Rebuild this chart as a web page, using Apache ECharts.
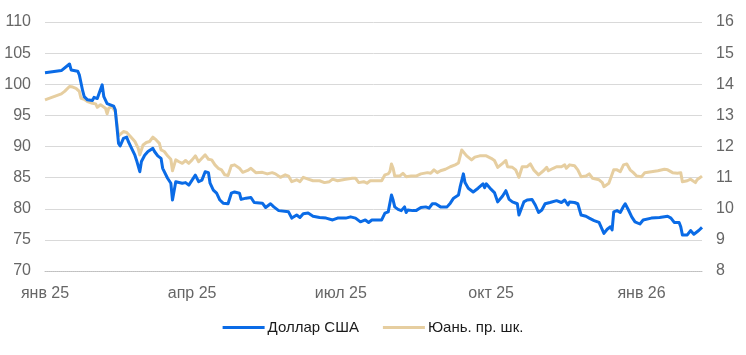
<!DOCTYPE html>
<html>
<head>
<meta charset="utf-8">
<script src="https://cdn.jsdelivr.net/npm/echarts@6/dist/echarts.min.js"></script>
<style>
html,body{margin:0;padding:0;background:#fff;}
#chart{width:746px;height:355px;}
</style>
</head>
<body>
<div id="chart"></div>
<script>
const startDate = '2025-01-01';
const endDate = '2026-02-07';
const monthNames = ['янв','фев','мар','апр','май','июн','июл','авг','сен','окт','ноя','дек'];
const labelMonths = [0, 3, 6, 9];

const usdName = 'Доллар США';
const cnyName = 'Юань. пр. шк.';

const usdDates = ['2025-01-01','2025-01-11','2025-01-12','2025-01-16','2025-01-17','2025-01-21','2025-01-22','2025-01-24','2025-01-25','2025-01-27','2025-01-30','2025-01-31','2025-02-02','2025-02-04','2025-02-05','2025-02-06','2025-02-08','2025-02-09','2025-02-12','2025-02-13','2025-02-14','2025-02-15','2025-02-16','2025-02-18','2025-02-20','2025-02-21','2025-02-23','2025-02-25','2025-02-26','2025-02-28','2025-03-01','2025-03-03','2025-03-05','2025-03-08','2025-03-09','2025-03-11','2025-03-13','2025-03-14','2025-03-15','2025-03-17','2025-03-19','2025-03-20','2025-03-22','2025-03-23','2025-03-26','2025-03-28','2025-03-30','2025-04-01','2025-04-03','2025-04-05','2025-04-07','2025-04-09','2025-04-11','2025-04-12','2025-04-14','2025-04-16','2025-04-18','2025-04-20','2025-04-23','2025-04-25','2025-04-27','2025-04-30','2025-05-01','2025-05-04','2025-05-07','2025-05-09','2025-05-14','2025-05-16','2025-05-19','2025-05-21','2025-05-24','2025-05-30','2025-06-01','2025-06-04','2025-06-06','2025-06-08','2025-06-11','2025-06-14','2025-06-18','2025-06-22','2025-06-26','2025-06-29','2025-07-04','2025-07-07','2025-07-10','2025-07-13','2025-07-16','2025-07-18','2025-07-20','2025-07-23','2025-07-26','2025-07-28','2025-07-30','2025-07-31','2025-08-01','2025-08-02','2025-08-03','2025-08-05','2025-08-07','2025-08-09','2025-08-10','2025-08-11','2025-08-14','2025-08-16','2025-08-19','2025-08-22','2025-08-24','2025-08-26','2025-08-28','2025-08-31','2025-09-04','2025-09-06','2025-09-08','2025-09-11','2025-09-12','2025-09-14','2025-09-15','2025-09-17','2025-09-20','2025-09-23','2025-09-26','2025-09-27','2025-09-28','2025-10-01','2025-10-03','2025-10-05','2025-10-08','2025-10-10','2025-10-12','2025-10-14','2025-10-17','2025-10-18','2025-10-19','2025-10-21','2025-10-23','2025-10-26','2025-10-28','2025-10-30','2025-11-01','2025-11-03','2025-11-06','2025-11-10','2025-11-13','2025-11-15','2025-11-17','2025-11-18','2025-11-21','2025-11-23','2025-11-25','2025-11-28','2025-11-30','2025-12-03','2025-12-06','2025-12-07','2025-12-09','2025-12-11','2025-12-13','2025-12-14','2025-12-15','2025-12-17','2025-12-19','2025-12-21','2025-12-22','2025-12-24','2025-12-26','2025-12-28','2025-12-31','2026-01-02','2026-01-07','2026-01-12','2026-01-17','2026-01-19','2026-01-21','2026-01-24','2026-01-25','2026-01-26','2026-01-29','2026-01-31','2026-02-02','2026-02-03','2026-02-05','2026-02-07'];
const usdValues = [101.86,102.2,101.9,103.25,102.3,102.1,101.5,99.0,98.0,97.5,97.4,97.9,97.7,99.2,99.9,98.0,96.9,97.2,96.5,95.9,93.2,90.5,90.1,91.3,91.5,90.8,89.7,88.6,87.8,85.95,87.6,88.6,89.2,89.7,89.2,88.5,88.1,86.5,86.5,84.9,84.1,81.4,84.35,84.6,84.1,84.2,83.8,84.6,85.4,84.35,84.6,85.95,85.8,84.1,83.0,82.5,81.4,80.9,80.8,82.5,82.7,82.5,81.5,81.7,81.8,81.0,80.9,80.2,80.8,80.3,79.7,79.5,78.5,79.0,78.6,79.2,79.3,78.8,78.6,78.5,78.2,78.5,78.5,78.7,78.5,77.9,78.2,77.8,78.2,78.2,78.2,79.3,79.5,79.8,82.2,81.4,80.3,79.9,79.7,80.3,79.4,79.8,79.7,79.7,80.2,80.3,80.1,80.8,80.8,80.3,80.3,80.9,81.7,82.2,83.5,85.6,84.2,83.3,82.7,83.3,84.0,83.4,84.0,83.1,82.6,81.1,82.05,82.9,81.5,81.1,80.8,79.0,78.8,81.1,81.4,81.5,80.6,79.4,79.8,80.8,81.0,81.3,81.0,81.4,80.6,81.1,81.0,80.8,79.0,78.8,78.5,78.1,77.8,78.1,76.05,76.7,77.1,76.6,79.5,79.7,79.4,80.4,80.8,79.8,78.7,77.9,77.55,78.2,78.5,78.6,78.8,78.5,77.8,77.8,77.1,75.8,75.8,76.5,75.9,75.6,76.5,77.0];

const cnyDates = ['2025-01-01','2025-01-11','2025-01-13','2025-01-16','2025-01-18','2025-01-20','2025-01-22','2025-01-23','2025-01-25','2025-01-27','2025-01-30','2025-02-01','2025-02-02','2025-02-04','2025-02-05','2025-02-07','2025-02-08','2025-02-09','2025-02-11','2025-02-13','2025-02-14','2025-02-15','2025-02-16','2025-02-18','2025-02-20','2025-02-22','2025-02-25','2025-02-27','2025-02-28','2025-03-02','2025-03-04','2025-03-06','2025-03-08','2025-03-10','2025-03-12','2025-03-13','2025-03-15','2025-03-17','2025-03-19','2025-03-20','2025-03-22','2025-03-24','2025-03-26','2025-03-28','2025-03-30','2025-04-01','2025-04-03','2025-04-05','2025-04-07','2025-04-09','2025-04-11','2025-04-13','2025-04-15','2025-04-17','2025-04-19','2025-04-21','2025-04-23','2025-04-25','2025-04-27','2025-04-30','2025-05-02','2025-05-05','2025-05-07','2025-05-10','2025-05-14','2025-05-17','2025-05-20','2025-05-22','2025-05-23','2025-05-25','2025-05-28','2025-05-30','2025-06-01','2025-06-04','2025-06-06','2025-06-08','2025-06-11','2025-06-14','2025-06-18','2025-06-21','2025-06-24','2025-06-26','2025-06-29','2025-07-04','2025-07-08','2025-07-10','2025-07-12','2025-07-15','2025-07-17','2025-07-19','2025-07-23','2025-07-26','2025-07-28','2025-07-30','2025-07-31','2025-08-01','2025-08-02','2025-08-03','2025-08-04','2025-08-06','2025-08-08','2025-08-10','2025-08-13','2025-08-16','2025-08-19','2025-08-23','2025-08-25','2025-08-27','2025-08-29','2025-08-31','2025-09-03','2025-09-06','2025-09-09','2025-09-11','2025-09-13','2025-09-14','2025-09-16','2025-09-19','2025-09-21','2025-09-24','2025-09-25','2025-09-28','2025-10-01','2025-10-03','2025-10-05','2025-10-08','2025-10-10','2025-10-11','2025-10-14','2025-10-16','2025-10-18','2025-10-20','2025-10-23','2025-10-25','2025-10-27','2025-10-30','2025-11-02','2025-11-04','2025-11-05','2025-11-08','2025-11-10','2025-11-13','2025-11-15','2025-11-16','2025-11-18','2025-11-21','2025-11-23','2025-11-25','2025-11-28','2025-11-30','2025-12-02','2025-12-06','2025-12-08','2025-12-09','2025-12-12','2025-12-13','2025-12-15','2025-12-17','2025-12-19','2025-12-21','2025-12-23','2025-12-25','2025-12-27','2025-12-29','2026-01-01','2026-01-03','2026-01-07','2026-01-11','2026-01-15','2026-01-17','2026-01-20','2026-01-23','2026-01-25','2026-01-26','2026-01-29','2026-01-31','2026-02-01','2026-02-03','2026-02-04','2026-02-07'];
const cnyValues = [13.5,13.69,13.77,13.93,13.91,13.87,13.77,13.55,13.52,13.44,13.39,13.37,13.26,13.34,13.39,13.23,13.05,13.23,13.28,13.12,12.75,12.34,12.37,12.48,12.45,12.34,12.16,11.95,11.73,12.05,12.13,12.16,12.30,12.21,12.1,11.89,11.84,11.7,11.59,11.22,11.57,11.51,11.46,11.55,11.46,11.57,11.7,11.51,11.62,11.73,11.59,11.57,11.41,11.3,11.25,11.09,11.07,11.38,11.41,11.3,11.17,11.23,11.3,11.16,11.17,11.12,11.16,11.12,11.16,11.01,11.09,11.05,10.87,10.93,10.87,11.01,10.95,10.9,10.9,10.84,10.87,10.95,10.9,10.95,10.98,10.98,10.84,10.87,10.82,10.9,10.9,10.9,11.09,11.12,11.19,11.44,11.3,11.05,11.05,11.05,11.14,11.03,11.05,11.05,11.12,11.16,11.14,11.25,11.16,11.22,11.27,11.35,11.41,11.47,11.89,11.91,11.7,11.57,11.66,11.7,11.73,11.7,11.62,11.55,11.33,11.46,11.55,11.35,11.33,11.25,11.01,11.35,11.35,11.44,11.25,11.09,11.22,11.33,11.22,11.3,11.35,11.35,11.41,11.3,11.41,11.38,11.25,11.03,11.05,11.12,10.98,10.93,10.84,10.71,10.82,10.87,11.25,11.25,11.19,11.41,11.44,11.25,11.16,11.05,11.03,11.16,11.19,11.22,11.27,11.25,11.16,11.14,11.16,10.87,10.9,10.95,10.98,10.84,10.93,11.05];

const leftTicks = {min: 70, max: 110, interval: 5};
const rightTicks = {min: 8, max: 16, interval: 1};

function iso(d) {
  const m = d.getUTCMonth() + 1, day = d.getUTCDate();
  return d.getUTCFullYear() + '-' + (m < 10 ? '0' : '') + m + '-' + (day < 10 ? '0' : '') + day;
}
const categories = [];
for (let t = Date.parse(startDate + 'T00:00:00Z'); t <= Date.parse(endDate + 'T00:00:00Z'); t += 86400000) {
  categories.push(iso(new Date(t)));
}

const font = "'Liberation Sans', Arial, sans-serif";
const labelColor = '#666666';
const chart = echarts.init(document.getElementById('chart'), null, {renderer: 'canvas'});
chart.setOption({
  animation: false,
  backgroundColor: '#ffffff',
  grid: {left: 45, right: 44, top: 22, bottom: 84},
  legend: {
    data: [usdName, cnyName],
    bottom: 15,
    left: 'center',
    icon: 'rect',
    itemWidth: 42,
    itemHeight: 3,
    itemGap: 24,
    textStyle: {fontFamily: font, fontSize: 15, color: '#1a1a1a', padding: [0, 0, 0, -2]}
  },
  xAxis: {
    type: 'category',
    data: categories,
    boundaryGap: false,
    axisTick: {show: false},
    axisLine: {show: true, lineStyle: {color: '#bfbfbf', width: 1, type: [1, 1]}},
    splitLine: {show: false},
    axisLabel: {
      fontFamily: font, fontSize: 16, color: labelColor, margin: 15,
      interval: function (idx, val) {
        const p = val.split('-');
        return p[2] === '01' && labelMonths.indexOf(parseInt(p[1], 10) - 1) >= 0;
      },
      formatter: function (val) {
        const p = val.split('-');
        return monthNames[parseInt(p[1], 10) - 1] + ' ' + p[0].slice(2);
      }
    }
  },
  yAxis: [
    {
      type: 'value', min: leftTicks.min, max: leftTicks.max, interval: leftTicks.interval,
      axisLine: {show: false}, axisTick: {show: false},
      axisLabel: {fontFamily: font, fontSize: 16, color: labelColor, margin: 14},
      splitLine: {show: true, lineStyle: {color: '#d9d9d9', width: 1}}
    },
    {
      type: 'value', position: 'right', min: rightTicks.min, max: rightTicks.max, interval: rightTicks.interval,
      axisLine: {show: false}, axisTick: {show: false},
      axisLabel: {fontFamily: font, fontSize: 16, color: labelColor, margin: 14},
      splitLine: {show: false}
    }
  ],
  series: [
    {
      name: usdName, type: 'line', yAxisIndex: 0, symbol: 'none', z: 3,
      color: '#0a6be6',
      lineStyle: {width: 3, color: '#0a6be6', join: 'round'},
      data: usdDates.map((d, i) => [d, usdValues[i]])
    },
    {
      name: cnyName, type: 'line', yAxisIndex: 1, symbol: 'none', z: 2,
      color: '#e6cea0',
      lineStyle: {width: 3, color: '#e6cea0', join: 'round'},
      data: cnyDates.map((d, i) => [d, cnyValues[i]])
    }
  ]
});
</script>
</body>
</html>
